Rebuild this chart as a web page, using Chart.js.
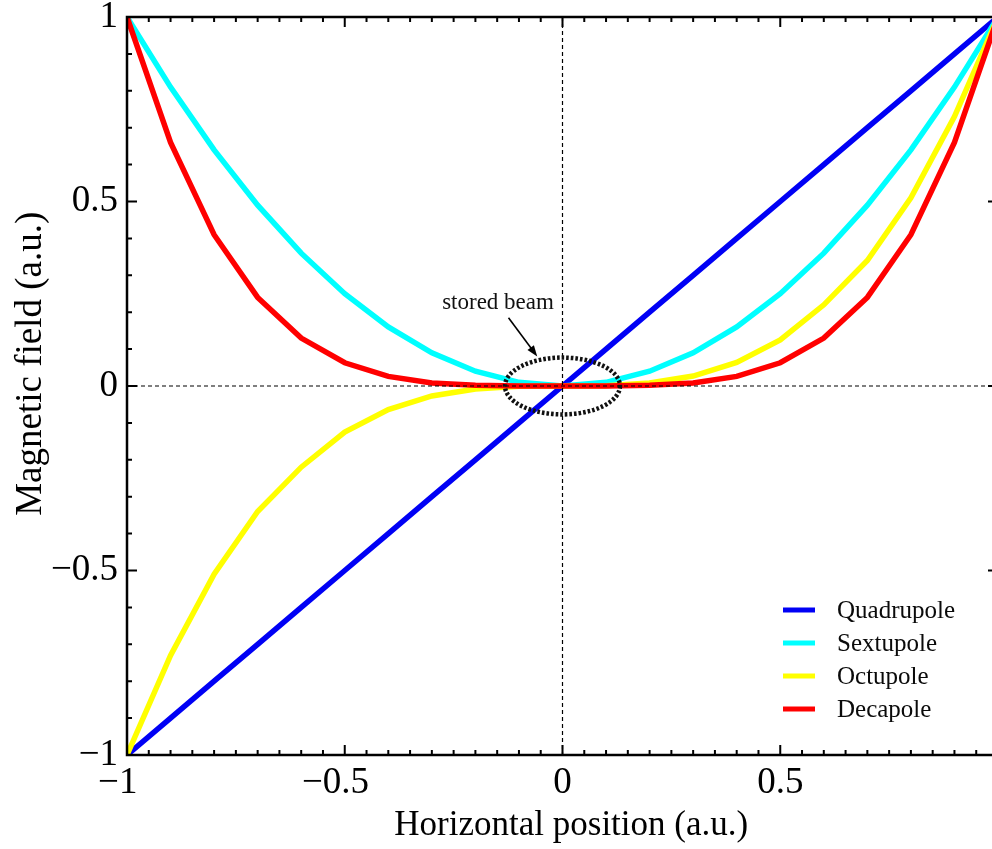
<!DOCTYPE html>
<html>
<head>
<meta charset="utf-8">
<script src="https://cdn.jsdelivr.net/npm/chart.js@4.4.1/dist/chart.umd.min.js"></script>
<style>
    html, body { margin: 0; padding: 0; background: #fff; overflow: hidden; }
    #wrap { width: 1010px; height: 849px; }
</style>
</head>
<body>
<div id="wrap"><canvas id="myChart" width="1010" height="849"></canvas></div>
<script>
// values
const xPositions = [-1, -0.9, -0.8, -0.7, -0.6, -0.5, -0.4, -0.3, -0.2, -0.1, 0,
    0.1, 0.2, 0.3, 0.4, 0.5, 0.6, 0.7, 0.8, 0.9, 1];
const quadrupole = [-1, -0.9, -0.8, -0.7, -0.6, -0.5, -0.4, -0.3, -0.2, -0.1, 0,
    0.1, 0.2, 0.3, 0.4, 0.5, 0.6, 0.7, 0.8, 0.9, 1];
const sextupole = [1, 0.81, 0.64, 0.49, 0.36, 0.25, 0.16, 0.09, 0.04, 0.01, 0,
    0.01, 0.04, 0.09, 0.16, 0.25, 0.36, 0.49, 0.64, 0.81, 1];
const octupole = [-1, -0.73, -0.51, -0.34, -0.22, -0.125, -0.064, -0.027, -0.008, -0.001, 0,
    0.001, 0.008, 0.027, 0.064, 0.125, 0.22, 0.34, 0.51, 0.73, 1];
const decapole = [1, 0.66, 0.41, 0.24, 0.13, 0.063, 0.026, 0.008, 0.002, 0, 0,
    0, 0.002, 0.008, 0.026, 0.063, 0.13, 0.24, 0.41, 0.66, 1];

const seriesNames = ['Quadrupole', 'Sextupole', 'Octupole', 'Decapole'];
const seriesValues = [quadrupole, sextupole, octupole, decapole];
const seriesColors = ['#0000f5', '#00ffff', '#ffff00', '#ff0000'];

const xTitle = 'Horizontal position (a.u.)';
const yTitle = 'Magnetic field (a.u.)';
const beamLabel = 'stored beam';

const serif = "'Liberation Serif', 'DejaVu Serif', serif";

function fmt(v) {
    if (Math.abs(v) < 1e-9) return '0';
    return v < 0 ? '\u2212' + String(Math.abs(v)) : String(v);
}

function isMajor(v) {
    return Math.abs(v * 2 - Math.round(v * 2)) < 1e-9;
}

function tickList(step) {
    const n = Math.round(1 / step);
    const out = [];
    for (let i = -n; i <= n; i++) out.push({ value: i / n });
    return out;
}

// frame, inward ticks, zero lines, beam ellipse, legend
const decorations = {
    id: 'decorations',
    afterDatasetsDraw(chart) {
        const { ctx, chartArea: a, scales: { x, y } } = chart;
        ctx.save();

        // dashed zero lines
        ctx.strokeStyle = '#000';
        ctx.lineWidth = 1.2;
        ctx.setLineDash([4, 3]);
        ctx.beginPath();
        ctx.moveTo(x.getPixelForValue(0), a.top);
        ctx.lineTo(x.getPixelForValue(0), a.bottom);
        ctx.moveTo(a.left, y.getPixelForValue(0));
        ctx.lineTo(a.right, y.getPixelForValue(0));
        ctx.stroke();

        // stored beam ellipse
        const cx = x.getPixelForValue(0), cy = y.getPixelForValue(0);
        ctx.strokeStyle = '#111';
        ctx.lineWidth = 4.5;
        ctx.setLineDash([2.6, 2]);
        ctx.beginPath();
        ctx.ellipse(cx, cy, x.getPixelForValue(0.132) - cx, cy - y.getPixelForValue(0.077), 0, 0, Math.PI * 2);
        ctx.stroke();
        ctx.setLineDash([]);

        // arrow
        const x0 = x.getPixelForValue(-0.124), y0 = y.getPixelForValue(0.185);
        const x1 = x.getPixelForValue(-0.058), y1 = y.getPixelForValue(0.08);
        const ang = Math.atan2(y1 - y0, x1 - x0);
        ctx.strokeStyle = '#000';
        ctx.fillStyle = '#000';
        ctx.lineWidth = 1.6;
        ctx.beginPath();
        ctx.moveTo(x0, y0);
        ctx.lineTo(x1 - 8 * Math.cos(ang), y1 - 8 * Math.sin(ang));
        ctx.stroke();
        ctx.beginPath();
        ctx.moveTo(x1, y1);
        ctx.lineTo(x1 - 11 * Math.cos(ang) + 4 * Math.sin(ang), y1 - 11 * Math.sin(ang) - 4 * Math.cos(ang));
        ctx.lineTo(x1 - 11 * Math.cos(ang) - 4 * Math.sin(ang), y1 - 11 * Math.sin(ang) + 4 * Math.cos(ang));
        ctx.closePath();
        ctx.fill();

        ctx.font = '23px ' + serif;
        ctx.textAlign = 'center';
        ctx.textBaseline = 'middle';
        ctx.fillStyle = '#111';
        ctx.fillText(beamLabel, x.getPixelForValue(-0.148), y.getPixelForValue(0.225));

        // frame
        ctx.strokeStyle = '#000';
        ctx.lineWidth = 2.5;
        ctx.strokeRect(a.left, a.top, a.right - a.left, a.bottom - a.top);

        // inward ticks on all four sides
        ctx.lineWidth = 2;
        ctx.beginPath();
        x.ticks.forEach(t => {
            const px = x.getPixelForValue(t.value);
            const len = isMajor(t.value) ? 10 : 5;
            ctx.moveTo(px, a.bottom);
            ctx.lineTo(px, a.bottom - len);
            ctx.moveTo(px, a.top);
            ctx.lineTo(px, a.top + len);
        });
        y.ticks.forEach(t => {
            const py = y.getPixelForValue(t.value);
            const len = isMajor(t.value) ? 10 : 5;
            ctx.moveTo(a.left, py);
            ctx.lineTo(a.left + len, py);
            ctx.moveTo(a.right, py);
            ctx.lineTo(a.right - len, py);
        });
        ctx.stroke();

        // legend
        ctx.font = '25px ' + serif;
        ctx.textAlign = 'left';
        ctx.textBaseline = 'middle';
        chart.data.datasets.forEach((ds, i) => {
            const ly = 610 + i * 33;
            ctx.strokeStyle = ds.borderColor;
            ctx.lineWidth = 5;
            ctx.beginPath();
            ctx.moveTo(783, ly);
            ctx.lineTo(815, ly);
            ctx.stroke();
            ctx.fillStyle = '#0a0a0a';
            ctx.fillText(ds.label, 837, ly + 1);
        });

        ctx.restore();
    }
};

const ctx = document.getElementById('myChart').getContext('2d');

new Chart(ctx, {
    type: 'line',
    data: {
        datasets: seriesValues.map((vals, i) => ({
            label: seriesNames[i],
            data: xPositions.map((xv, j) => ({ x: xv, y: vals[j] })),
            borderColor: seriesColors[i],
            backgroundColor: seriesColors[i],
            borderWidth: 5.5,
            pointRadius: 0,
            tension: 0,
            fill: false,
            order: seriesValues.length - i
        }))
    },
    options: {
        responsive: false,
        animation: false,
        layout: { padding: { top: 17, right: 12, bottom: 0, left: 0 } },
        plugins: {
            legend: { display: false },
            tooltip: { enabled: false }
        },
        scales: {
            x: {
                type: 'linear',
                min: -1,
                max: 1,
                afterBuildTicks: (scale) => { scale.ticks = tickList(0.05); },
                afterFit: (scale) => {
                    scale.height = 94;
                    scale.paddingLeft = 0;
                    scale.paddingRight = 0;
                },
                ticks: {
                    autoSkip: false,
                    maxRotation: 0,
                    padding: 6,
                    color: '#000',
                    font: { family: serif, size: 37 },
                    callback: (v) => isMajor(v) ? fmt(v) + (v < 0 ? '\u2007' : '') : ''
                },
                grid: { display: false, drawTicks: false },
                border: { display: false },
                title: {
                    display: true,
                    // leading en space nudges the centred title a little to the right
                    text: '\u2002' + xTitle,
                    color: '#000',
                    font: { family: serif, size: 35 },
                    padding: { top: 0, bottom: 2 }
                }
            },
            y: {
                type: 'linear',
                min: -1,
                max: 1,
                afterBuildTicks: (scale) => { scale.ticks = tickList(0.1); },
                afterFit: (scale) => {
                    scale.width = 127;
                    scale.paddingTop = 0;
                    scale.paddingBottom = 0;
                },
                ticks: {
                    autoSkip: false,
                    padding: 9,
                    color: '#000',
                    font: { family: serif, size: 37 },
                    callback: (v) => isMajor(v) ? fmt(v) : ''
                },
                grid: { display: false, drawTicks: false },
                border: { display: false },
                title: {
                    display: true,
                    // leading spaces lift the rotated title as in the reference
                    text: '\u2003\u2009' + yTitle,
                    color: '#000',
                    font: { family: serif, size: 37 },
                    padding: { top: 9, bottom: 0 }
                }
            }
        }
    },
    plugins: [decorations]
});
</script>
</body>
</html>
